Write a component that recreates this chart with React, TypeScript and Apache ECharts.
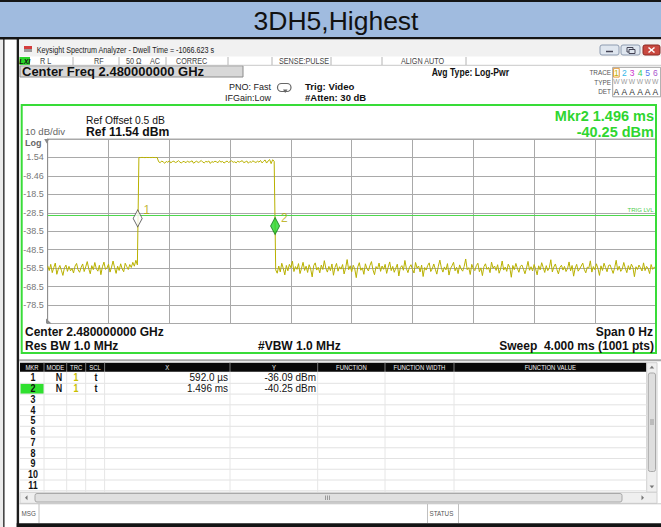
import React, { useEffect, useRef } from "react";
import * as echarts from "echarts";

// ---------------- data ----------------
const TITLE = "3DH5,Highest";
const WINDOW_TITLE = "Keysight Spectrum Analyzer - Dwell Time = -1066.623 s";
const CENTER_FREQ_TEXT = "Center Freq 2.480000000 GHz";
const REF_OFFSET_TEXT = "Ref Offset 0.5 dB";
const REF_TEXT = "Ref 11.54 dBm";
const SCALE_TEXT = "10 dB/div";
const ACTIVE_MKR_LINE1 = "Mkr2 1.496 ms";
const ACTIVE_MKR_LINE2 = "-40.25 dBm";

const REF_LEVEL_DBM = 11.54;
const DB_PER_DIV = 10;
const Y_DIVS = 10;
const SWEEP_MS = 4;
const X_DIVS = 10;
const SAMPLE_STEP_MS = 0.01;
const TRIG_LEVEL_DBM = -29.6;

const Y_TICK_LABELS = ["1.54", "-8.46", "-18.5", "-28.5", "-38.5", "-48.5", "-58.5", "-68.5", "-78.5"];

// trace samples, one every SAMPLE_STEP_MS, starting at 0 ms
const TRACE_PRE_BURST = [
  -57.2, -59.8, -56.4, -60.9, -58.1, -55.7, -61.8, -58.9, -57.0, -59.6,
  -62.4, -58.3, -56.8, -60.2, -57.5, -59.9, -58.6, -61.1, -57.3, -55.9,
  -59.4, -60.7, -58.0, -56.2, -60.3, -57.8, -54.9, -58.7, -61.5, -57.1,
  -59.3, -55.4, -58.8, -60.1, -56.9, -62.0, -57.7, -55.2, -59.1, -58.4,
  -56.3, -60.6, -57.9, -54.6, -58.2, -61.3, -57.4, -59.7, -56.1, -58.9,
  -60.4, -55.8, -57.6, -59.2, -56.5, -58.1, -55.3, -57.4, -54.2, -56.7,
];
const TRACE_BURST = [
  1.52, 1.48, 1.55, 1.5, 1.46, 1.53, 1.49, 1.51, 1.47, 1.54, 1.5, 1.48, 1.52,
  -0.8, -1.3, -0.4, -0.9, -1.6, -0.6, -1.1, -0.3, -1.4, -0.7,
  -0.5, -1.2, -0.9, -0.2, -1.0, -1.5, -0.6, -0.8, -1.3, -0.4,
  -1.1, -0.7, -0.3, -1.6, -0.9, -0.5, -1.2, -0.8, -0.1, -1.0,
  -1.4, -0.6, -0.9, -0.4, -1.7, -0.7, -1.1, -0.5, -0.8, -1.3,
  -0.2, -1.0, -0.6, -1.5, -0.9, -0.4, -1.2, -0.7, -0.3, -1.1,
  -0.8, -1.4, -0.5, -1.0, -0.6, -0.2, -1.3, -0.9, -0.4, -1.6,
  -0.7, -1.1, -0.3, -0.8, -1.2, -0.5, -1.0, -0.1, -1.4, -0.6,
  0.2, -1.5, -0.4, 0.4, -1.8, 0.3, -0.5,
];
const TRACE_POST_BURST = [
  -59.4, -61.2, -57.3, -60.5, -55.8, -58.7, -62.1, -57.0, -59.9, -56.4,
  -58.2, -54.7, -60.3, -57.6, -59.1, -56.0, -61.4, -58.5, -55.3, -59.7,
  -57.4, -60.8, -56.6, -58.9, -63.2, -57.1, -55.6, -59.5, -58.0, -61.0,
  -56.8, -59.2, -54.4, -58.6, -60.6, -57.5, -59.8, -56.2, -62.3, -58.1,
  -55.9, -60.1, -57.7, -59.0, -56.5, -61.6, -58.4, -53.8, -59.3, -57.2,
  -60.4, -56.9, -58.8, -63.6, -57.8, -55.5, -59.6, -58.3, -61.8, -56.1,
  -58.6, -60.0, -57.0, -54.9, -59.4, -62.0, -57.6, -58.9, -55.7, -60.2,
  -57.3, -59.1, -56.4, -61.3, -58.0, -55.1, -59.8, -57.5, -60.7, -58.5,
  -56.3, -62.7, -58.2, -57.1, -59.6, -54.3, -58.7, -60.9, -57.9, -56.6,
  -59.2, -61.1, -55.4, -58.4, -57.3, -60.5, -56.8, -63.0, -58.1, -59.5,
  -57.0, -55.6, -60.3, -58.8, -56.2, -59.0, -61.7, -57.4, -54.1, -58.3,
  -60.6, -57.8, -59.4, -56.0, -62.2, -58.6, -57.2, -55.3, -59.9, -58.0,
  -61.4, -56.7, -58.9, -60.1, -57.5, -53.5, -59.3, -58.2, -61.9, -56.4,
  -58.7, -59.8, -57.1, -55.8, -60.4, -58.3, -62.5, -57.6, -56.1, -59.1,
  -58.0, -60.9, -55.2, -58.5, -57.3, -59.7, -56.6, -61.2, -58.8, -54.6,
  -59.5, -57.9, -60.2, -56.3, -58.1, -63.4, -57.0, -59.3, -55.9, -58.6,
  -60.7, -57.4, -56.8, -59.0, -61.5, -58.4, -54.8, -59.6, -57.7, -60.0,
  -56.5, -58.9, -62.1, -57.2, -59.4, -55.5, -58.2, -60.8, -57.1, -59.8,
  -58.3, -53.9, -60.5, -57.8, -56.2, -59.2, -61.6, -58.0, -56.9, -59.5,
  -57.5, -60.3, -58.7, -55.1, -59.9, -57.0, -62.8, -58.5, -56.4, -60.1,
  -58.8, -57.3, -55.7, -59.1, -61.0, -57.9, -58.4, -54.5, -60.6, -57.6,
  -59.3, -56.1, -58.6, -62.4, -57.2, -59.7, -55.8, -58.1, -60.4, -57.0,
  -56.7, -59.0, -61.3, -58.2, -54.2, -59.6, -57.4, -60.2, -58.9, -55.4,
  -58.5, -60.9, -57.1, -59.4, -56.3, -58.0, -63.1, -57.7, -59.2, -56.8,
  -58.3, -60.0, -55.6, -59.8, -57.5, -58.7, -61.4, -56.5, -59.1, -57.9,
  -58.4,
];

const MARKER_IDS = ["1", "2"];
const MARKER_MODES = ["N", "N"];
const MARKER_TRACES = ["1", "1"];
const MARKER_SCALES = ["t", "t"];
const MARKER_TIMES_MS = [0.592, 1.496];
const MARKER_LEVELS_DBM = [-36.09, -40.25];
const MARKER_X_TEXT = ["592.0 µs", "1.496 ms"];
const MARKER_Y_TEXT = ["-36.09 dBm", "-40.25 dBm"];
const ACTIVE_MARKER_INDEX = 1;
const TABLE_ROWS = ["1", "2", "3", "4", "5", "6", "7", "8", "9", "10", "11"];
const TABLE_HEADERS = ["MKR", "MODE", "TRC", "SCL", "X", "Y", "FUNCTION", "FUNCTION WIDTH", "FUNCTION VALUE"];

const STATUS_ITEMS = ["R L", "RF", "50 Ω", "AC", "CORREC", "SENSE:PULSE", "ALIGN AUTO"];
const TRACE_NUMS = ["1", "2", "3", "4", "5", "6"];
const TRACE_COLORS = ["#c2b600", "#33b8e8", "#cc33cc", "#33cc66", "#5577ee", "#aa55cc"];

// ---------------- layout helpers ----------------
const FONT = "'Liberation Sans', Arial, sans-serif";

function txt(x: number, y: number, text: string, size: number, fill: string, o: any = {}) {
  const align = o.align ?? "left";
  return {
    type: "text",
    x,
    y,
    z: o.z ?? 20,
    scaleX: o.sx ?? 1,
    silent: true,
    style: {
      text,
      fill,
      font: `${o.italic ? "italic " : ""}${o.bold ? "bold " : ""}${size}px ${FONT}`,
      textAlign: align,
      textVerticalAlign: "middle",
      align,
      verticalAlign: "middle",
    },
  };
}
function rect(x: number, y: number, w: number, h: number, style: any, z = -5, r = 0) {
  return { type: "rect", z, silent: true, shape: { x, y, width: w, height: h, r }, style };
}
function ln(x1: number, y1: number, x2: number, y2: number, stroke: string, lineWidth = 1, z = -4) {
  return { type: "line", z, silent: true, shape: { x1, y1, x2, y2 }, style: { stroke, lineWidth } };
}
function poly(points: number[][], fill: string, z = 10) {
  return { type: "polygon", z, silent: true, shape: { points }, style: { fill } };
}

// plot geometry
const GRID_LEFT = 47.7;
const GRID_TOP = 139;
const GRID_W = 608;
const GRID_H = 184.5;

function buildGraphic() {
  const G: any[] = [];
  // outer page
  G.push(rect(0, 39, 3.2, 488, { fill: "#ececec" }, -9));
  G.push(rect(3.2, 39, 1.3, 488, { fill: "#1c1c1c" }, -9));
  G.push(rect(0, 0, 661, 38, { fill: "#a0bbdf" }, -9));
  G.push(rect(0, 0, 661, 2, { fill: "#151515" }, -8));
  G.push(rect(0, 37, 661, 2.6, { fill: "#151515" }, -8));
  G.push(txt(336, 21, TITLE, 26.5, "#111", { align: "center" }));

  // screenshot window
  G.push(rect(16.7, 39, 2.4, 488, { fill: "#1c1c1c" }, -8));
  G.push(rect(19.1, 39.6, 641.9, 17, { fill: "#f1f1f1" }, -8));
  G.push(rect(24, 46, 8, 3, { fill: "#d43c3c" }, -7));
  G.push(rect(24, 49, 8, 3, { fill: "#9a9a9a" }, -7));
  G.push(txt(36.7, 50.5, WINDOW_TITLE, 9, "#222", { sx: 0.8 }));
  // window buttons
  G.push(rect(600, 45, 19, 10, { fill: "#dfe6ef", stroke: "#8d9bb0", lineWidth: 1 }, -7, 2));
  G.push(ln(606, 51.5, 613, 51.5, "#445", 1.5, -6));
  G.push(rect(621, 45, 19, 10, { fill: "#dfe6ef", stroke: "#8d9bb0", lineWidth: 1 }, -7, 2));
  G.push(rect(627, 47.5, 6, 4.5, { fill: "none", stroke: "#445", lineWidth: 1 }, -6));
  G.push(rect(629, 49.5, 6, 4, { fill: "#dfe6ef", stroke: "#445", lineWidth: 1 }, -6));
  G.push(rect(643, 45, 17, 10, { fill: "#c9483f", stroke: "#8b2a25", lineWidth: 1 }, -7, 2));
  G.push(ln(648.5, 47.5, 654.5, 52.5, "#fff", 1.5, -6));
  G.push(ln(654.5, 47.5, 648.5, 52.5, "#fff", 1.5, -6));

  // status row
  G.push(ln(19, 65.3, 661, 65.3, "#c8c8c8", 1));
  G.push(rect(19.5, 57, 10.5, 8, { fill: "#27d627" }, -6));
  G.push(txt(24.8, 61.2, "LXI", 7, "#111", { bold: true, italic: true, align: "center" }));
  const statusX = [40, 94, 126, 150, 176, 279, 401];
  STATUS_ITEMS.forEach((s, i) => G.push(txt(statusX[i], 61.2, s, 8.5, "#444", { sx: 0.85 })));
  [73, 119, 166, 228, 272, 331, 382, 466].forEach((x) => G.push(ln(x, 57, x, 65, "#b4b4b4", 1)));

  // center freq row
  G.push(rect(20, 65.8, 223, 11.2, { fill: "#d8d8d8", stroke: "#8c8c8c", lineWidth: 1 }, -6));
  G.push(txt(22, 71.6, CENTER_FREQ_TEXT, 13, "#111", { bold: true }));
  G.push(txt(509, 73, "Avg Type: Log-Pwr", 10, "#111", { bold: true, align: "right", sx: 0.86 }));
  G.push(txt(271, 87, "PNO: Fast", 9, "#222", { align: "right" }));
  G.push(txt(271, 97.5, "IFGain:Low", 9, "#222", { align: "right" }));
  G.push(rect(277.5, 83.5, 13.5, 8, { fill: "none", stroke: "#666", lineWidth: 1.2 }, 1, 4));
  G.push(poly([[283, 89.5], [287.5, 89.5], [285.2, 93]], "#666", 2));
  G.push(txt(305, 86.5, "Trig: Video", 9.6, "#111", { bold: true }));
  G.push(txt(305, 97, "#Atten: 30 dB", 9.5, "#111", { bold: true }));

  // trace box
  G.push(txt(611, 72.7, "TRACE", 7.5, "#555", { align: "right", sx: 0.85 }));
  G.push(txt(611, 82.3, "TYPE", 7.5, "#555", { align: "right", sx: 0.85 }));
  G.push(txt(611, 91.7, "DET", 7.5, "#555", { align: "right", sx: 0.85 }));
  G.push(rect(612.7, 67.3, 48, 29.5, { fill: "none", stroke: "#a0a0a0", lineWidth: 1 }, 1));
  G.push(rect(613.6, 68.3, 5.6, 8.8, { fill: "none", stroke: "#e39a3a", lineWidth: 1 }, 2));
  const tx = [616.4, 624.3, 632, 640, 647.7, 655.3];
  TRACE_NUMS.forEach((n, i) => {
    G.push(txt(tx[i], 72.8, n, 8.5, TRACE_COLORS[i], { align: "center" }));
    G.push(txt(tx[i], 82.3, "W", 7.5, "#9a9a9a", { align: "center", sx: 0.9 }));
    G.push(txt(tx[i], 91.8, "A", 8.5, "#333", { align: "center" }));
  });

  // graph frame
  G.push(rect(21.7, 105, 634.3, 248, { fill: "none", stroke: "#38dc38", lineWidth: 2 }, 8));
  G.push(txt(654, 115.5, ACTIVE_MKR_LINE1, 14.5, "#2fd62f", { bold: true, align: "right" }));
  G.push(txt(654, 131.5, ACTIVE_MKR_LINE2, 14.5, "#2fd62f", { bold: true, align: "right" }));
  G.push(txt(86, 120.7, REF_OFFSET_TEXT, 10.3, "#111"));
  G.push(txt(86, 132.4, REF_TEXT, 12.2, "#111", { bold: true }));
  G.push(txt(25, 131.6, SCALE_TEXT, 9.6, "#666"));
  G.push(txt(25, 142.6, "Log", 9, "#666", { bold: true }));
  G.push(poly([[44.2, 139], [49.2, 139], [46.7, 143.5]], "#8a8a8a", 12));
  G.push(poly([[46, 318.5], [46, 323.5], [51.5, 323.5]], "#8a8a8a", 12));
  G.push(txt(25, 331.8, "Center 2.480000000 GHz", 12, "#111", { bold: true }));
  G.push(txt(653, 331.8, "Span 0 Hz", 12, "#111", { bold: true, align: "right" }));
  G.push(txt(25, 346, "Res BW 1.0 MHz", 12, "#111", { bold: true }));
  G.push(txt(258, 346, "#VBW 1.0 MHz", 12, "#111", { bold: true }));
  G.push(txt(654, 346, "Sweep  4.000 ms (1001 pts)", 12, "#111", { bold: true, align: "right" }));

  // table panel
  G.push(rect(19.1, 359.3, 641.9, 2, { fill: "#a8a8a8" }, -7));
  const edges = [20, 44, 66.7, 85.7, 104.6, 230, 317.7, 385, 454, 646.7];
  G.push(rect(20, 362.7, 626.7, 9, { fill: "#080808" }, -6));
  TABLE_HEADERS.forEach((h, i) => {
    G.push(txt((edges[i] + edges[i + 1]) / 2, 367.4, h, 7, "#f2f2f2", { align: "center", sx: 0.85 }));
    if (i > 0) G.push(ln(edges[i], 362.7, edges[i], 371.7, "#777", 1, -5));
  });
  const rowTop = 371.7;
  const rowH = 10.74;
  TABLE_ROWS.forEach((_, r) => {
    const yb = rowTop + (r + 1) * rowH + 0.9;
    G.push(ln(20, yb, 646.7, yb, "#e2e2e2", 1));
  });
  edges.slice(1, 9).forEach((x) => G.push(ln(x, 371.7, x, 492, "#e6e6e6", 1)));
  G.push(rect(20.5, rowTop + ACTIVE_MARKER_INDEX * rowH + 1.2, 23.5, rowH - 0.5, { fill: "#2fe02f" }, -5));
  TABLE_ROWS.forEach((n, r) => {
    const y = 377.6 + r * rowH;
    G.push(txt(33, y, n, 10.5, "#111", { bold: true, align: "center", sx: 0.85 }));
  });
  MARKER_IDS.forEach((_, r) => {
    const y = 377.6 + r * rowH;
    G.push(txt(59, y, MARKER_MODES[r], 10.5, "#111", { bold: true, align: "center", sx: 0.85 }));
    G.push(txt(76, y, MARKER_TRACES[r], 10.5, "#c8be00", { bold: true, align: "center", sx: 0.85 }));
    G.push(txt(96, y, MARKER_SCALES[r], 10.5, "#111", { bold: true, align: "center", sx: 0.85 }));
    G.push(txt(228, y, MARKER_X_TEXT[r], 10.5, "#111", { align: "right", sx: 0.95 }));
    G.push(txt(316, y, MARKER_Y_TEXT[r], 10.5, "#111", { align: "right", sx: 0.95 }));
  });
  // vertical scrollbar
  G.push(rect(646.7, 362.7, 10.3, 129.5, { fill: "#efefef", stroke: "#d0d0d0", lineWidth: 1 }, -6));
  G.push(rect(648.3, 373, 7.2, 98.5, { fill: "#dedede", stroke: "#a9a9a9", lineWidth: 1 }, -5, 2));
  G.push(poly([[649.6, 368.5], [654.2, 368.5], [651.9, 365.8]], "#777", 1));
  G.push(poly([[649.6, 485.5], [654.2, 485.5], [651.9, 488.2]], "#777", 1));
  [420, 422, 424].forEach((y) => G.push(ln(650, y, 654, y, "#888", 0.8, -4)));
  // horizontal scrollbar
  G.push(rect(20, 492.3, 637, 11, { fill: "#efefef", stroke: "#d0d0d0", lineWidth: 1 }, -6));
  G.push(rect(35, 493.5, 587, 8.5, { fill: "#e0e0e0", stroke: "#a9a9a9", lineWidth: 1 }, -5, 2));
  G.push(poly([[27.5, 495.3], [27.5, 500.3], [25, 497.8]], "#777", 1));
  G.push(poly([[641.5, 495.3], [641.5, 500.3], [644, 497.8]], "#777", 1));
  [325.5, 327.5, 329.5].forEach((x) => G.push(ln(x, 495.5, x, 500, "#888", 0.8, -4)));
  // message row
  G.push(ln(19, 503.8, 661, 503.8, "#c8c8c8", 1));
  G.push(txt(21.5, 513.5, "MSG", 7, "#555", { sx: 0.9 }));
  G.push(ln(39, 504, 39, 523, "#c0c0c0", 1));
  G.push(ln(427.5, 504, 427.5, 523, "#c0c0c0", 1));
  G.push(ln(458.5, 504, 458.5, 523, "#c0c0c0", 1));
  G.push(txt(429.5, 513.5, "STATUS", 7, "#555", { sx: 0.9 }));
  G.push(rect(16.7, 523.2, 644.3, 3.8, { fill: "#141414" }, -4));
  return G;
}

function buildOption() {
  const yOffset = Y_DIVS * DB_PER_DIV - REF_LEVEL_DBM;
  const toAxis = (dbm: number) => +(dbm + yOffset).toFixed(3);
  const samples = [...TRACE_PRE_BURST, ...TRACE_BURST, ...TRACE_POST_BURST];
  const trace = samples.map((v, i) => [+(i * SAMPLE_STEP_MS).toFixed(3), toAxis(v)]);
  const markerData = MARKER_IDS.map((id, i) => ({
    value: [MARKER_TIMES_MS[i], toAxis(MARKER_LEVELS_DBM[i])],
    name: id,
    itemStyle:
      i === ACTIVE_MARKER_INDEX
        ? { color: "#22d62a", borderColor: "#137a17", borderWidth: 1 }
        : { color: "#ffffff", borderColor: "#444", borderWidth: 1 },
  }));
  const gridLine = { show: true, lineStyle: { color: "#a9a9a9", width: 1 } };
  return {
    animation: false,
    backgroundColor: "#ffffff",
    grid: {
      left: GRID_LEFT,
      top: GRID_TOP,
      width: GRID_W,
      height: GRID_H,
      show: true,
      borderColor: "#a9a9a9",
      borderWidth: 1,
      containLabel: false,
      outerBoundsMode: "none",
    },
    xAxis: {
      type: "value",
      min: 0,
      max: SWEEP_MS,
      interval: SWEEP_MS / X_DIVS,
      axisLabel: { show: false },
      axisTick: { show: false },
      axisLine: { show: false },
      splitLine: gridLine,
    },
    yAxis: {
      type: "value",
      min: 0,
      max: Y_DIVS * DB_PER_DIV,
      interval: DB_PER_DIV,
      axisLabel: {
        show: true,
        color: "#777",
        fontSize: 9,
        fontFamily: "'Liberation Sans', Arial, sans-serif",
        margin: 4,
        showMinLabel: false,
        showMaxLabel: false,
        formatter: (v: number) => {
          const idx = Math.round((Y_DIVS * DB_PER_DIV - v) / DB_PER_DIV) - 1;
          return Y_TICK_LABELS[idx] ?? "";
        },
      },
      axisTick: { show: false },
      axisLine: { show: true, lineStyle: { color: "#8f8f8f", width: 1 } },
      splitLine: gridLine,
    },
    graphic: { elements: buildGraphic() },
    series: [
      {
        type: "line",
        data: trace,
        showSymbol: false,
        symbol: "none",
        z: 3,
        lineStyle: { color: "#b9b100", width: 1 },
        markLine: {
          silent: true,
          symbol: ["none", "none"],
          animation: false,
          lineStyle: { color: "#4ed84e", width: 1, type: "solid" },
          label: {
            show: true,
            position: "insideEndTop",
            formatter: "TRIG LVL",
            color: "#4ccc4c",
            fontSize: 6,
            distance: 2,
          },
          data: [{ yAxis: toAxis(TRIG_LEVEL_DBM) }],
        },
      },
      {
        type: "scatter",
        data: markerData,
        symbol: "diamond",
        symbolSize: [9, 17],
        symbolOffset: [0, "-50%"],
        z: 6,
        label: {
          show: true,
          position: "right",
          distance: 1,
          offset: [0, -8],
          formatter: (p: any) => p.name,
          color: "#b2a600",
          fontSize: 12,
          fontFamily: "'Liberation Sans', Arial, sans-serif",
        },
      },
    ],
  };
}

export default function App() {
  const ref = useRef<HTMLDivElement>(null);
  useEffect(() => {
    if (!ref.current) return;
    const chart = echarts.init(ref.current, undefined, { renderer: "svg" });
    chart.setOption(buildOption() as any);
    return () => chart.dispose();
  }, []);
  return (
    <div
      ref={ref}
      style={{ position: "absolute", left: 0, top: 0, width: 661, height: 527, background: "#fff" }}
    />
  );
}
